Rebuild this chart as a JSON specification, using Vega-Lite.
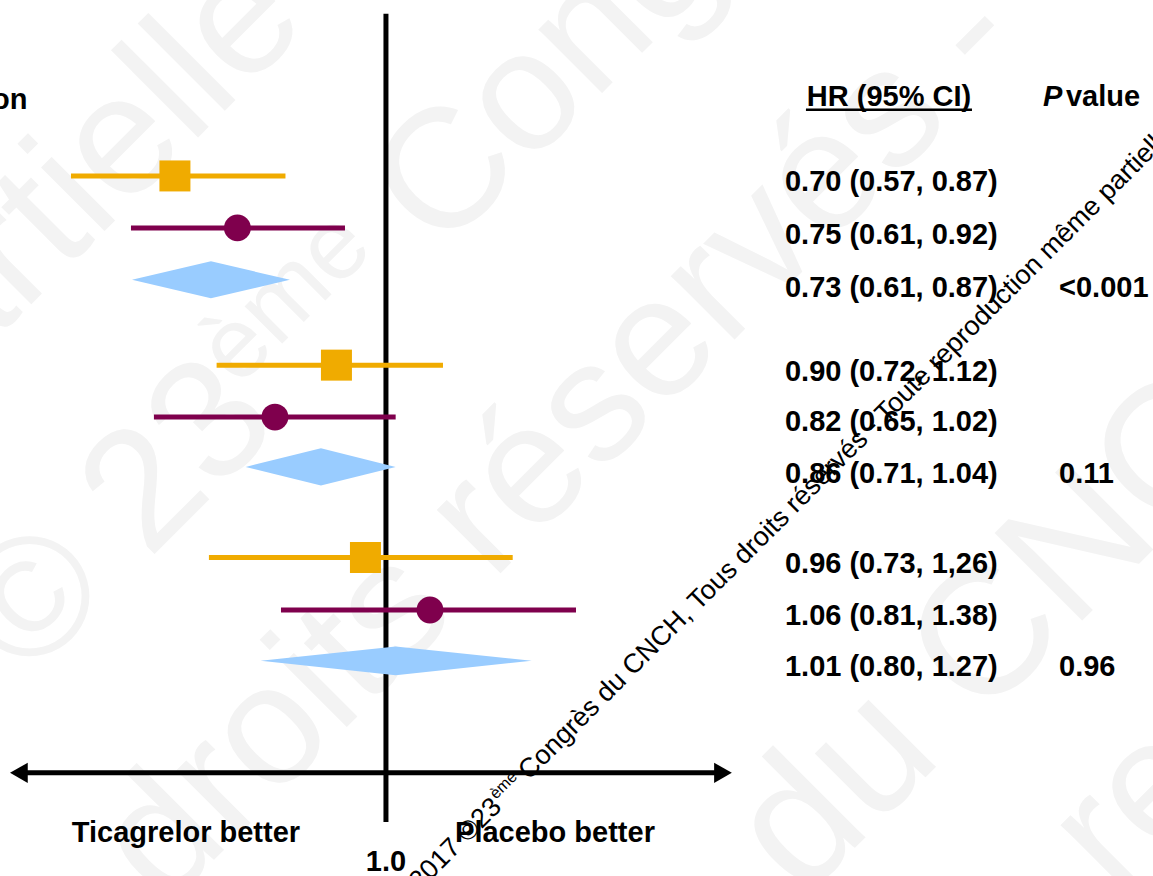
{
  "$schema": "https://vega.github.io/schema/vega-lite/v6.json",
  "width": 1153,
  "height": 876,
  "padding": 0,
  "autosize": {"type": "none"},
  "background": "white",
  "config": {"view": {"stroke": null}, "text": {"font": "Liberation Sans"}},
  "datasets": {
    "rows": [
      {"grp": 1, "series": "Ticagrelor 90 mg", "y": 0.0, "est": 0.7035, "lo": 0.5916, "hi": 0.8458, "label": "0.70 (0.57, 0.87)", "ty": 0.11, "p": ""},
      {"grp": 1, "series": "Ticagrelor 60 mg", "y": 0.98, "est": 0.7807, "lo": 0.6538, "hi": 0.934, "label": "0.75 (0.61, 0.92)", "ty": 1.11, "p": ""},
      {"grp": 1, "series": "Pooled", "y": 1.96, "est": 0.747, "lo": 0.6549, "hi": 0.8521, "label": "0.73 (0.61, 0.87)", "ty": 2.11, "p": "<0.001"},
      {"grp": 2, "series": "Ticagrelor 90 mg", "y": 3.57, "est": 0.9208, "lo": 0.7541, "hi": 1.0997, "label": "0.90 (0.72, 1.12)", "ty": 3.7, "p": ""},
      {"grp": 2, "series": "Ticagrelor 60 mg", "y": 4.55, "est": 0.8311, "lo": 0.6793, "hi": 1.0163, "label": "0.82 (0.65, 1.02)", "ty": 4.64, "p": ""},
      {"grp": 2, "series": "Pooled", "y": 5.49, "est": 0.8973, "lo": 0.7915, "hi": 1.0163, "label": "0.86 (0.71, 1.04)", "ty": 5.62, "p": "0.11"},
      {"grp": 3, "series": "Ticagrelor 90 mg", "y": 7.2, "est": 0.9664, "lo": 0.7445, "hi": 1.2352, "label": "0.96 (0.73, 1,26)", "ty": 7.32, "p": ""},
      {"grp": 3, "series": "Ticagrelor 60 mg", "y": 8.19, "est": 1.0761, "lo": 0.8395, "hi": 1.3726, "label": "1.06 (0.81, 1.38)", "ty": 8.3, "p": ""},
      {"grp": 3, "series": "Pooled", "y": 9.15, "est": 1.0163, "lo": 0.8115, "hi": 1.2749, "label": "1.01 (0.80, 1.27)", "ty": 9.26, "p": "0.96"}
    ],
    "diamonds": [
      {"grp": 1, "x": 0.6549, "top": 1.96, "bot": 1.96},
      {"grp": 1, "x": 0.747, "top": 1.61, "bot": 2.31},
      {"grp": 1, "x": 0.8521, "top": 1.96, "bot": 1.96},
      {"grp": 2, "x": 0.7915, "top": 5.49, "bot": 5.49},
      {"grp": 2, "x": 0.8973, "top": 5.14, "bot": 5.84},
      {"grp": 2, "x": 1.0163, "top": 5.49, "bot": 5.49},
      {"grp": 3, "x": 0.8115, "top": 9.15, "bot": 9.15},
      {"grp": 3, "x": 1.0163, "top": 8.88, "bot": 9.42},
      {"grp": 3, "x": 1.2749, "top": 9.15, "bot": 9.15}
    ],
    "axisline": [
      {"x1": 0.5424, "x2": 1.7536, "y": 11.264}
    ],
    "arrowheads": [
      {"x": 0.5424, "y": 11.264, "dir": "left"},
      {"x": 1.7536, "y": 11.264, "dir": "right"}
    ],
    "refline": [
      {"x": 1.0, "y1": -3.06, "y2": 12.19}
    ],
    "axislabels": [
      {"x": 0.7165, "y": 12.4, "text": "Ticagrelor better"},
      {"x": 1.3254, "y": 12.4, "text": "Placebo better"},
      {"x": 1.0, "y": 12.94, "text": "1.0"}
    ],
    "headers": [
      {"c": -0.69, "y": -1.43, "text": "on", "italic": false, "align": "left"},
      {"c": 77.1, "y": -1.49, "text": "HR (95% CI)", "italic": false, "align": "center"},
      {"c": 90.46, "y": -1.49, "text": "P", "italic": true, "align": "left"},
      {"c": 92.45, "y": -1.49, "text": "value", "italic": false, "align": "left"}
    ],
    "underline": [
      {"c1": 69.9, "c2": 84.3, "y": -1.25}
    ],
    "watermark": [
      {"c": 36.4, "y": 13.5, "text": "2017 ©23", "fs": 27},
      {"c": 43.02, "y": 11.77, "text": "ème", "fs": 16},
      {"c": 45.88, "y": 11.415, "text": "Congrès du CNCH, Tous droits réservés - Toute reproduction même partielle", "fs": 27}
    ],
    "bigmark": [
      {"c": 2.3, "y": 9.55, "text": "© 23", "fs": 170},
      {"c": 20.64, "y": 4.0, "text": "ème", "fs": 100},
      {"c": 38.16, "y": 1.49, "text": "Congrès du CNCH", "fs": 170},
      {"c": 14.31, "y": 13.83, "text": "droits réservés - Toute reproduction", "fs": 170},
      {"c": 69.64, "y": 13.66, "text": "du CNCH", "fs": 180},
      {"c": -9.6, "y": 5.1, "text": "partielle", "fs": 170},
      {"c": 96.8, "y": 13.6, "text": "reproduction", "fs": 170}
    ]
  },
  "layer": [
    {
      "data": {"name": "bigmark"},
      "mark": {"type": "text", "font": "Liberation Sans", "angle": 315, "align": "left", "baseline": "alphabetic", "color": "#F3F3F3"},
      "encoding": {
        "x": {"field": "c", "type": "quantitative", "scale": {"domain": [0, 100], "nice": false, "zero": false}, "axis": null},
        "y": {"field": "y", "type": "quantitative", "scale": {"domain": [-3.32, 13.21], "reverse": true, "nice": false, "zero": false}, "axis": null},
        "text": {"field": "text"},
        "size": {"field": "fs", "type": "quantitative", "scale": null}
      }
    },
    {
      "layer": [
        {
          "data": {"name": "refline"},
          "mark": {"type": "rule", "color": "black", "strokeWidth": 5},
          "encoding": {
            "x": {"field": "x", "type": "quantitative", "scale": {"type": "log", "domain": [0.5256, 3.5906], "nice": false, "zero": false}, "axis": null},
            "y": {"field": "y1", "type": "quantitative"},
            "y2": {"field": "y2"}
          }
        },
        {
          "data": {"name": "axisline"},
          "mark": {"type": "rule", "color": "black", "strokeWidth": 5},
          "encoding": {
            "x": {"field": "x1", "type": "quantitative"},
            "x2": {"field": "x2"},
            "y": {"field": "y", "type": "quantitative"}
          }
        },
        {
          "data": {"name": "arrowheads"},
          "mark": {"type": "point", "filled": true, "color": "black", "opacity": 1, "size": 420, "strokeWidth": 0},
          "encoding": {
            "x": {"field": "x", "type": "quantitative"},
            "y": {"field": "y", "type": "quantitative"},
            "shape": {"field": "dir", "type": "nominal", "scale": {"domain": ["left", "right"], "range": ["triangle-left", "triangle-right"]}, "legend": null}
          }
        },
        {
          "data": {"name": "diamonds"},
          "mark": {"type": "area", "color": "#99CCFF", "opacity": 1},
          "encoding": {
            "x": {"field": "x", "type": "quantitative"},
            "y": {"field": "top", "type": "quantitative"},
            "y2": {"field": "bot"},
            "detail": {"field": "grp", "type": "nominal"}
          }
        },
        {
          "data": {"name": "rows"},
          "transform": [{"filter": "datum.series !== 'Pooled'"}],
          "mark": {"type": "rule", "strokeWidth": 5},
          "encoding": {
            "x": {"field": "lo", "type": "quantitative"},
            "x2": {"field": "hi"},
            "y": {"field": "y", "type": "quantitative"},
            "color": {"field": "series", "type": "nominal", "scale": {"domain": ["Ticagrelor 90 mg", "Ticagrelor 60 mg"], "range": ["#F0AB00", "#7F004D"]}, "legend": null}
          }
        },
        {
          "data": {"name": "rows"},
          "transform": [{"filter": "datum.series !== 'Pooled'"}],
          "mark": {"type": "point", "filled": true, "opacity": 1, "strokeWidth": 0},
          "encoding": {
            "x": {"field": "est", "type": "quantitative"},
            "y": {"field": "y", "type": "quantitative"},
            "color": {"field": "series", "type": "nominal", "legend": null},
            "shape": {"field": "series", "type": "nominal", "scale": {"domain": ["Ticagrelor 90 mg", "Ticagrelor 60 mg"], "range": ["square", "circle"]}, "legend": null},
            "size": {"field": "series", "type": "nominal", "scale": {"domain": ["Ticagrelor 90 mg", "Ticagrelor 60 mg"], "range": [961, 720]}, "legend": null}
          }
        },
        {
          "data": {"name": "axislabels"},
          "mark": {"type": "text", "font": "Liberation Sans", "fontWeight": "bold", "fontSize": 29, "align": "center", "baseline": "middle", "color": "black"},
          "encoding": {
            "x": {"field": "x", "type": "quantitative"},
            "y": {"field": "y", "type": "quantitative"},
            "text": {"field": "text"}
          }
        }
      ],
      "resolve": {"scale": {"shape": "independent", "size": "independent"}}
    },
    {
      "layer": [
        {
          "data": {"name": "rows"},
          "mark": {"type": "text", "font": "Liberation Sans", "fontWeight": "bold", "fontSize": 29, "align": "left", "baseline": "middle", "color": "black"},
          "encoding": {
            "x": {"datum": 68.08, "type": "quantitative", "scale": {"domain": [0, 100], "nice": false, "zero": false}, "axis": null},
            "y": {"field": "ty", "type": "quantitative"},
            "text": {"field": "label"}
          }
        },
        {
          "data": {"name": "rows"},
          "mark": {"type": "text", "font": "Liberation Sans", "fontWeight": "bold", "fontSize": 29, "align": "left", "baseline": "middle", "color": "black"},
          "encoding": {
            "x": {"datum": 91.85, "type": "quantitative"},
            "y": {"field": "ty", "type": "quantitative"},
            "text": {"field": "p"}
          }
        },
        {
          "data": {"name": "headers"},
          "transform": [{"filter": "datum.align === 'left' && !datum.italic"}],
          "mark": {"type": "text", "font": "Liberation Sans", "fontWeight": "bold", "fontSize": 29, "align": "left", "baseline": "middle", "color": "black"},
          "encoding": {
            "x": {"field": "c", "type": "quantitative"},
            "y": {"field": "y", "type": "quantitative"},
            "text": {"field": "text"}
          }
        },
        {
          "data": {"name": "headers"},
          "transform": [{"filter": "datum.italic"}],
          "mark": {"type": "text", "font": "Liberation Sans", "fontWeight": "bold", "fontStyle": "italic", "fontSize": 29, "align": "left", "baseline": "middle", "color": "black"},
          "encoding": {
            "x": {"field": "c", "type": "quantitative"},
            "y": {"field": "y", "type": "quantitative"},
            "text": {"field": "text"}
          }
        },
        {
          "data": {"name": "headers"},
          "transform": [{"filter": "datum.align === 'center'"}],
          "mark": {"type": "text", "font": "Liberation Sans", "fontWeight": "bold", "fontSize": 29, "align": "center", "baseline": "middle", "color": "black"},
          "encoding": {
            "x": {"field": "c", "type": "quantitative"},
            "y": {"field": "y", "type": "quantitative"},
            "text": {"field": "text"}
          }
        },
        {
          "data": {"name": "underline"},
          "mark": {"type": "rule", "color": "black", "strokeWidth": 2.5},
          "encoding": {
            "x": {"field": "c1", "type": "quantitative"},
            "x2": {"field": "c2"},
            "y": {"field": "y", "type": "quantitative"}
          }
        },
        {
          "data": {"name": "watermark"},
          "mark": {"type": "text", "font": "Liberation Sans", "angle": 315, "align": "left", "baseline": "alphabetic", "color": "black"},
          "encoding": {
            "x": {"field": "c", "type": "quantitative"},
            "y": {"field": "y", "type": "quantitative"},
            "text": {"field": "text"},
            "size": {"field": "fs", "type": "quantitative", "scale": null}
          }
        }
      ]
    }
  ],
  "resolve": {"scale": {"x": "independent"}}
}
